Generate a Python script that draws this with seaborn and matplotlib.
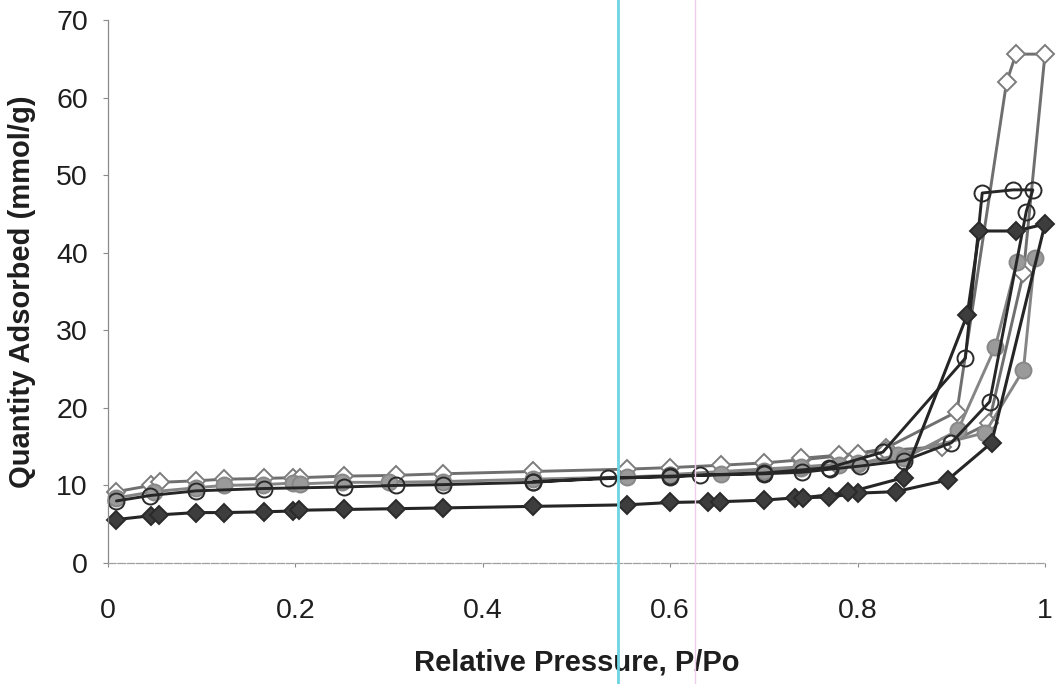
import numpy as np
import pandas as pd
import matplotlib
matplotlib.use("Agg")
import matplotlib.pyplot as plt
from matplotlib.lines import Line2D
import seaborn as sns

# ---------------- data ----------------
# Series A: filled dark diamonds
a_ads_p = [0.009, 0.046, 0.054, 0.094, 0.124, 0.166, 0.197, 0.204, 0.252, 0.307, 0.357, 0.454,
           0.554, 0.600, 0.640, 0.653, 0.700, 0.733, 0.770, 0.800, 0.841, 0.896, 0.943, 1.000]
a_ads_v = [5.6, 6.1, 6.2, 6.5, 6.5, 6.6, 6.7, 6.8, 6.9, 7.0, 7.1, 7.3,
           7.5, 7.8, 7.9, 7.9, 8.1, 8.4, 8.5, 9.0, 9.2, 10.7, 15.5, 43.7]
a_des_p = [0.969, 0.930, 0.917, 0.849, 0.790, 0.742]
a_des_v = [42.8, 42.8, 32.0, 11.0, 9.1, 8.4]

# Series B: open diamonds
b_ads_p = [0.009, 0.046, 0.056, 0.094, 0.124, 0.166, 0.197, 0.205, 0.252, 0.307, 0.357, 0.454,
           0.554, 0.600, 0.654, 0.700, 0.740, 0.780, 0.800, 0.830, 0.906, 0.959, 0.969, 1.000]
b_ads_v = [9.2, 10.0, 10.4, 10.6, 10.8, 10.9, 11.0, 11.0, 11.2, 11.3, 11.5, 11.8,
           12.1, 12.3, 12.6, 12.9, 13.3, 13.8, 14.1, 14.8, 19.5, 62.0, 65.6, 65.6]
b_des_p = [0.977, 0.940, 0.890, 0.830, 0.780, 0.740]
b_des_v = [37.4, 18.0, 15.0, 14.5, 13.9, 13.5]

# Series C: open circles
c_ads_p = [0.009, 0.045, 0.094, 0.166, 0.252, 0.307, 0.357, 0.454, 0.534, 0.600, 0.632,
           0.700, 0.741, 0.771, 0.803, 0.850, 0.900, 0.941, 0.980, 0.987]
c_ads_v = [8.0, 8.7, 9.3, 9.6, 9.8, 10.0, 10.1, 10.4, 11.0, 11.1, 11.3,
           11.5, 11.7, 12.1, 12.5, 13.2, 15.5, 20.8, 45.3, 48.1]
c_des_p = [0.966, 0.933, 0.915, 0.827, 0.770, 0.700, 0.600, 0.454]
c_des_v = [48.1, 47.7, 26.4, 14.3, 12.3, 11.6, 11.2, 10.5]

# Series D: filled grey circles
d_ads_p = [0.009, 0.049, 0.094, 0.124, 0.165, 0.197, 0.205, 0.250, 0.300, 0.357, 0.454,
           0.554, 0.600, 0.654, 0.700, 0.740, 0.780, 0.800, 0.843, 0.936, 0.977, 0.989]
d_ads_v = [8.4, 9.2, 9.7, 10.0, 10.1, 10.3, 10.2, 10.4, 10.4, 10.5, 10.8,
           11.1, 11.3, 11.5, 11.8, 12.2, 12.6, 12.8, 13.9, 16.8, 24.9, 39.3]
d_des_p = [0.970, 0.947, 0.907, 0.850, 0.800, 0.740, 0.600]
d_des_v = [38.8, 27.9, 17.1, 13.5, 12.9, 12.4, 11.4]

x_ticks = [0, 0.2, 0.4, 0.6, 0.8, 1.0]
x_tick_labels = ["0", "0.2", "0.4", "0.6", "0.8", "1"]
y_ticks = [0, 10, 20, 30, 40, 50, 60, 70]
x_label = "Relative Pressure, P/Po"
y_label = "Quantity Adsorbed (mmol/g)"

# ---------------- figure ----------------
sns.set_theme(style="ticks")
plt.rcParams["font.family"] = ["Liberation Sans", "DejaVu Sans"]

fig = plt.figure(figsize=(10.58, 6.84), dpi=100)
fig.patch.set_facecolor("white")
ax = fig.add_axes([108 / 1058, 1 - 563 / 684, (1045 - 108) / 1058, (563 - 20) / 684])
ax.set_facecolor("white")


def frame(ads_p, ads_v, des_p, des_v):
    return pd.DataFrame({"p": list(ads_p) + list(des_p),
                         "v": list(ads_v) + list(des_v)})


series = [
    # data, marker, markersize, face, edge, line colour, line width
    (frame(b_ads_p, b_ads_v, b_des_p, b_des_v), "D", 9, "white", "#7c7c7c", "#6f6f6f", 2.1),
    (frame(d_ads_p, d_ads_v, d_des_p, d_des_v), "o", 11.5, "#9a9a9a", "#888888", "#858585", 2.1),
    (frame(c_ads_p, c_ads_v, c_des_p, c_des_v), "o", 11.5, "none", "#2a2a2a", "#262626", 2.1),
    (frame(a_ads_p, a_ads_v, a_des_p, a_des_v), "D", 9, "#3d3d3d", "#2a2a2a", "#252525", 2.2),
]

for df, mk, ms, fc, ec, lc, lw in series:
    sns.lineplot(data=df, x="p", y="v", sort=False, estimator=None, ax=ax,
                 color=lc, linewidth=lw, marker=mk, markersize=ms,
                 markerfacecolor=fc, markeredgecolor=ec, markeredgewidth=1.4,
                 clip_on=False)

ax.set_xlim(0, 1)
ax.set_ylim(0, 70)
ax.set_xticks(x_ticks)
ax.set_xticklabels(x_tick_labels)
ax.set_yticks(y_ticks)

sns.despine(ax=ax, top=True, right=True)
ax.spines["left"].set_color("#8a8a8a")
ax.spines["left"].set_linewidth(0.9)
ax.spines["bottom"].set_color("#a0a0a0")
ax.spines["bottom"].set_linewidth(0.9)
ax.spines["bottom"].set_linestyle((0, (6, 1.5)))

ax.tick_params(axis="x", direction="out", length=3, width=0.8, color="#8a8a8a",
               labelsize=20.5, labelcolor="#1e1e1e", pad=22)
ax.tick_params(axis="y", direction="out", length=3.5, width=0.8, color="#8a8a8a",
               labelsize=20.5, labelcolor="#1e1e1e", pad=11)

ax.set_xlabel(x_label, fontsize=21, fontweight="bold", color="#1e1e1e")
ax.set_ylabel(y_label, fontsize=21, fontweight="bold", color="#1e1e1e")
ax.xaxis.set_label_coords(0.5, -0.158)
ax.yaxis.set_label_coords(-0.077, 0.5)
ax.xaxis.label.set_va("top")

# scan artefacts: coloured vertical lines crossing the page
fig.add_artist(Line2D([618 / 1058, 618 / 1058], [0, 1], transform=fig.transFigure,
                      color="#6fd3e2", linewidth=2.0, zorder=10))
fig.add_artist(Line2D([695 / 1058, 695 / 1058], [0, 1], transform=fig.transFigure,
                      color="#efcdec", linewidth=1.0, zorder=10))

fig.savefig("out.png", dpi=100, facecolor="white")
